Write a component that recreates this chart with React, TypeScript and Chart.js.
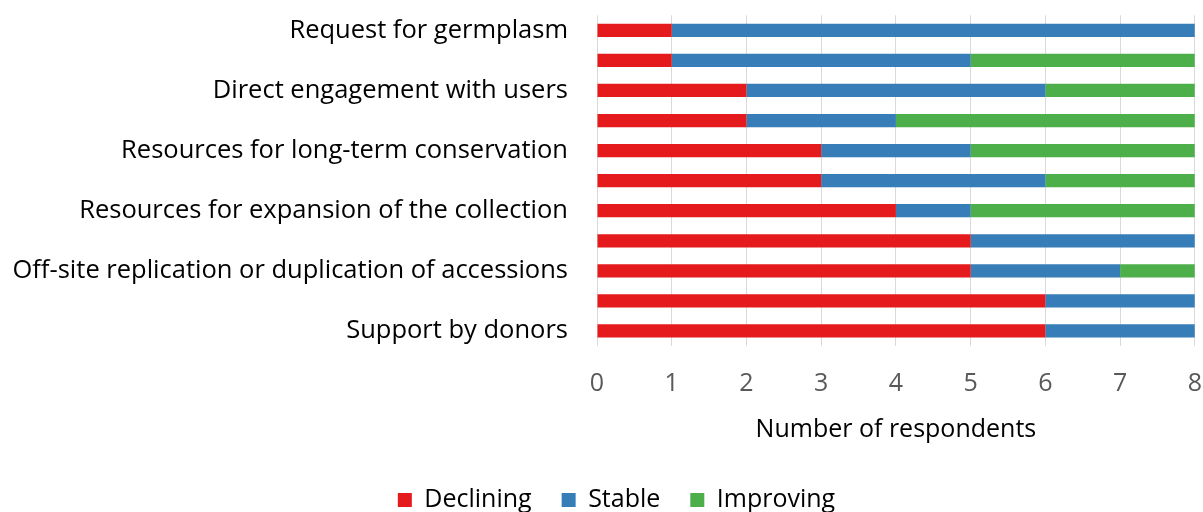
import React, { useEffect, useRef } from "react";
import { Chart, registerables } from "chart.js";

Chart.register(...registerables);

const categories: string[] = [
  "Request for germplasm",
  "",
  "Direct engagement with users",
  "",
  "Resources for long-term conservation",
  "",
  "Resources for expansion of the collection",
  "",
  "Off-site replication or duplication of accessions",
  "",
  "Support by donors",
];

const declining: number[] = [1, 1, 2, 2, 3, 3, 4, 5, 5, 6, 6];
const stable: number[] = [7, 4, 4, 2, 2, 3, 1, 3, 2, 2, 2];
const improving: number[] = [0, 3, 2, 4, 3, 2, 3, 0, 1, 0, 0];

const xTicks: number[] = [0, 1, 2, 3, 4, 5, 6, 7, 8];

const FONT = "'Open Sans', sans-serif";
const FS = 25;

const legendShift = {
  id: "legendShift",
  afterLayout(chart: any) {
    if (chart.legend) chart.legend.left += 30;
  },
};

export default function App() {
  const ref = useRef<HTMLCanvasElement | null>(null);

  useEffect(() => {
    document.body.style.margin = "0";
    if (!ref.current) return;
    const chart = new Chart(ref.current, {
      type: "bar",
      plugins: [legendShift],
      data: {
        labels: categories,
        datasets: [
          { label: "Declining", data: declining, backgroundColor: "#e41a1c" },
          { label: "Stable", data: stable, backgroundColor: "#377eb8" },
          { label: "Improving", data: improving, backgroundColor: "#4daf4a" },
        ],
      },
      options: {
        indexAxis: "y",
        responsive: false,
        animation: false,
        maintainAspectRatio: false,
        layout: { padding: { top: 0, right: 0, left: 0, bottom: -10.5 } },
        datasets: {
          bar: { barPercentage: 0.44, categoryPercentage: 1.0 },
        },
        scales: {
          x: {
            stacked: true,
            min: 0,
            max: 8,
            afterBuildTicks: (axis: any) => {
              axis.ticks = xTicks.map((v) => ({ value: v }));
            },
            grid: {
              color: "#d9d9d9",
              drawTicks: true,
              tickLength: 22,
              tickColor: "rgba(0,0,0,0)",
              lineWidth: 1,
            },
            border: { display: false },
            ticks: {
              color: "#595959",
              font: { family: FONT, size: FS },
              padding: 1,
              maxRotation: 0,
            },
            title: {
              display: true,
              text: "Number of respondents",
              color: "#000",
              font: { family: FONT, size: FS },
              padding: { top: 15, bottom: 12.5 },
            },
          },
          y: {
            stacked: true,
            afterFit: (scale: any) => {
              scale.width = 597;
            },
            grid: {
              display: true,
              drawOnChartArea: false,
              drawTicks: true,
              tickLength: 29,
              tickColor: "rgba(0,0,0,0)",
            },
            border: { display: false },
            ticks: {
              autoSkip: false,
              color: "#000",
              font: { family: FONT, size: 25.5 },
              padding: 0,
            },
          },
        },
        plugins: {
          legend: {
            position: "bottom",
            labels: {
              boxWidth: 14,
              boxHeight: 14,
              padding: 30,
              color: "#000",
              font: { family: FONT, size: FS },
            },
          },
          tooltip: { enabled: false },
        },
      },
    });
    return () => chart.destroy();
  }, []);

  return <canvas ref={ref} width={1203} height={512} style={{ display: "block" }} />;
}
